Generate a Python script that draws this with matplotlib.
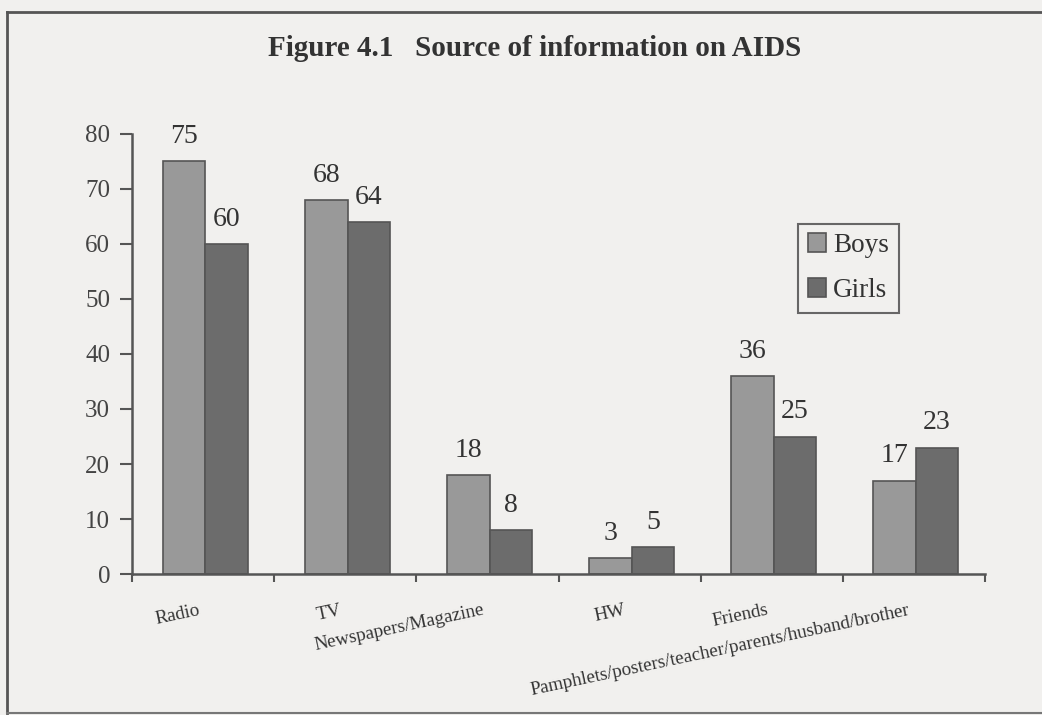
import matplotlib
matplotlib.use("Agg")
import matplotlib.pyplot as plt
import numpy as np
from matplotlib.lines import Line2D

categories = ["Radio", "TV", "Newspapers/Magazine", "HW", "Friends",
              "Pamphlets/posters/teacher/parents/husband/brother"]
boys = [75, 68, 18, 3, 36, 17]
girls = [60, 64, 8, 5, 25, 23]
yticks = [0, 10, 20, 30, 40, 50, 60, 70, 80]

plt.rcParams['font.family'] = ['Liberation Serif', 'DejaVu Serif']

bg = '#f1f0ee'
fig = plt.figure(figsize=(10.42, 7.15), dpi=100, facecolor=bg)
ax = fig.add_axes([0.127, 0.197, 0.818, 0.616])
ax.set_facecolor(bg)

x = np.arange(len(categories))
w = 0.3
b1 = ax.bar(x - w/2 + 0.015, boys, w, color='#999999', edgecolor='#555555', linewidth=1.2, label='Boys')
b2 = ax.bar(x + w/2 + 0.015, girls, w, color='#6c6c6c', edgecolor='#555555', linewidth=1.2, label='Girls')

for bars, vals in ((b1, boys), (b2, girls)):
    for rect, v in zip(bars, vals):
        ax.text(rect.get_x() + rect.get_width()/2, v + 2.2, str(v), ha='center', va='bottom',
                fontsize=20, color='#333333')

ax.set_xlim(-0.5, len(categories) - 0.5)
ax.set_ylim(0, 80)
ax.set_yticks(yticks)
ax.tick_params(axis='y', labelsize=18, length=9, width=1.5, color='#555555', labelcolor='#444444', pad=7)
ax.set_xticks(np.arange(len(categories) + 1) - 0.5)
ax.set_xticklabels([])
ax.tick_params(axis='x', length=6, width=1.5, color='#555555')
for s in ['top', 'right']:
    ax.spines[s].set_visible(False)
for s in ['left', 'bottom']:
    ax.spines[s].set_color('#555555')
    ax.spines[s].set_linewidth(1.8)

for i, c in enumerate(categories):
    ax.text(i - 0.04, -5.0, c, rotation=12, rotation_mode='anchor', ha='right', va='top',
            fontsize=13.7, color='#333333')

leg = ax.legend(loc='upper left', bbox_to_anchor=(0.781, 0.796), fontsize=19.5, frameon=True,
                fancybox=False, edgecolor='#444444', facecolor=bg, handlelength=0.7,
                handleheight=0.7, handletextpad=0.25, borderpad=0.35, labelspacing=0.75,
                borderaxespad=0)
leg.get_frame().set_linewidth(1.5)
for t in leg.get_texts():
    t.set_color('#333333')

fig.text(0.513, 0.932, "Figure 4.1   Source of information on AIDS", ha='center', va='center',
         fontsize=21, fontweight='bold', color='#333333')

# page frame
fig.add_artist(Line2D([0.007, 1.0], [0.983, 0.983], color='#555555', lw=2, transform=fig.transFigure))
fig.add_artist(Line2D([0.007, 0.007], [0.003, 0.983], color='#555555', lw=2, transform=fig.transFigure))
fig.add_artist(Line2D([0.007, 1.0], [0.003, 0.003], color='#777777', lw=1.5, transform=fig.transFigure))

fig.savefig("out.png", dpi=100, facecolor=bg)
